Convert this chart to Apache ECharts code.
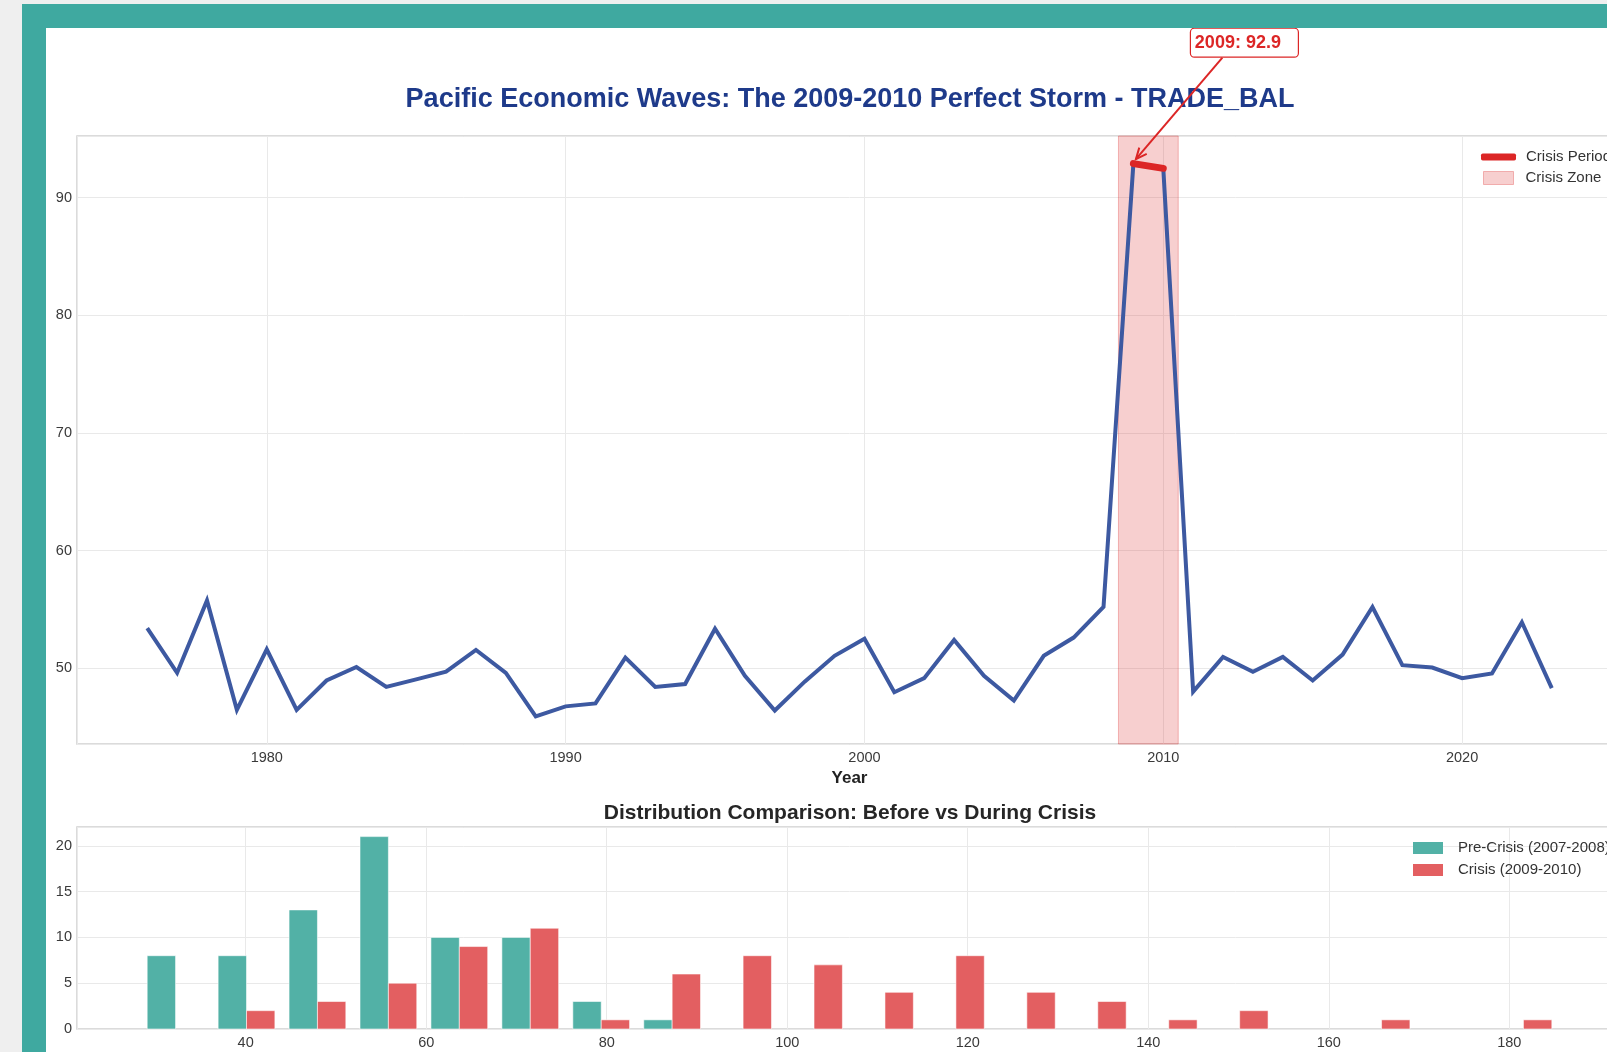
<!DOCTYPE html>
<html>
<head>
<meta charset="utf-8">
<script src="https://cdn.jsdelivr.net/npm/echarts@6/dist/echarts.min.js"></script>
<style>
  html, body { margin:0; padding:0; width:1607px; height:1052px; overflow:hidden; background:#efefef; }
  .abs { position:absolute; }
</style>
</head>
<body>
<div class="abs" style="left:46px;top:28px;width:2000px;height:2000px;background:#ffffff"></div>
<div id="chart" class="abs" style="left:0;top:0;width:1700px;height:1052px"></div>
<div class="abs" style="left:22px;top:4px;width:2000px;height:24px;background:#3fa9a0;z-index:5"></div>
<div class="abs" style="left:22px;top:4px;width:24px;height:2000px;background:#3fa9a0;z-index:5"></div>
<div class="abs" style="left:0;top:0;width:22px;height:2000px;background:#efefef;z-index:5"></div>
<div class="abs" style="left:0;top:0;width:2000px;height:4px;background:#efefef;z-index:5"></div>
<script>
// ---------- data ----------
const years = [1976,1977,1978,1979,1980,1981,1982,1983,1984,1985,1986,1987,1988,1989,1990,1991,1992,1993,1994,1995,1996,1997,1998,1999,2000,2001,2002,2003,2004,2005,2006,2007,2008,2009,2010,2011,2012,2013,2014,2015,2016,2017,2018,2019,2020,2021,2022,2023];
const tradeBal = [53.4,49.6,55.75,46.45,51.6,46.45,48.95,50.1,48.4,49.05,49.7,51.55,49.6,45.9,46.75,47.0,50.9,48.4,48.65,53.35,49.35,46.4,48.85,51.05,52.5,47.95,49.15,52.4,49.35,47.25,51.05,52.6,55.2,92.9,92.5,48.0,50.95,49.7,50.95,48.95,51.15,55.2,50.25,50.05,49.15,49.55,53.9,48.3];
const crisisYears = [2009, 2010];
const crisisZone = [2008.5, 2010.5];
const peakYear = 2009;
const peakValue = 92.9;

const binEdges = [28.30,36.16,44.02,51.88,59.74,67.60,75.46,83.32,91.18,99.04,106.90,114.76,122.62,130.48,138.34,146.20,154.06,161.92,169.78,177.64,185.50];
const preCrisisCounts = [8,8,13,21,10,10,3,1,0,0,0,0,0,0,0,0,0,0,0,0];
const crisisCounts    = [0,2,3,5,9,11,1,6,8,7,4,8,4,3,1,2,0,1,0,1];

const mainTitle = 'Pacific Economic Waves: The 2009-2010 Perfect Storm - TRADE_BAL';
const subTitle = 'Distribution Comparison: Before vs During Crisis';
const seriesNames = { line:'TRADE_BAL', period:'Crisis Period', zone:'Crisis Zone', pre:'Pre-Crisis (2007-2008)', crisis:'Crisis (2009-2010)' };

// ---------- build ----------
const FONT = '"Liberation Sans", Arial, sans-serif';
const lineData = years.map((y,i) => [y, tradeBal[i]]);
const periodData = crisisYears.map(y => [y, tradeBal[years.indexOf(y)]]);
const histData = counts => counts.map((c,i) => [binEdges[i], binEdges[i+1], c]);

function barRender(slot, color) {
  return function(params, api) {
    const x0 = api.value(0), x1 = api.value(1), c = api.value(2);
    if (!c) return null;
    const w = x1 - x0;
    const left = x0 + w * (0.1 + 0.4 * slot);
    const right = left + w * 0.4;
    const p0 = api.coord([left, c]);
    const p1 = api.coord([right, 0]);
    return { type:'rect', shape:{ x:p0[0], y:p0[1], width:p1[0]-p0[0], height:p1[1]-p0[1] },
             style:{ fill:color, stroke:'rgba(255,255,255,0.7)', lineWidth:0.8 } };
  };
}
const mult = m => v => (Math.abs(v - Math.round(v/m)*m) < 1e-6 ? String(Math.round(v)) : '');
const axisCommon = {
  axisLine:{show:false}, axisTick:{show:false},
  splitLine:{show:true, lineStyle:{color:'#e9e9e9', width:1}},
};
const labelStyle = { fontSize:14.5, color:'#3a3a3a', fontFamily:FONT };
const legendText = pad => ({ fontSize:15, color:'#333', fontFamily:FONT, lineHeight:16, padding:[0,0,0,pad] });

const chart = echarts.init(document.getElementById('chart'), null, {renderer:'canvas'});
const option = {
  animation:false,
  textStyle:{ fontFamily:FONT },
  title:[
    { text:mainTitle, left:'center', top:85, padding:0,
      textStyle:{ fontSize:27, fontWeight:'bold', color:'#1e3a8a', lineHeight:30, fontFamily:FONT } },
    { text:subTitle, left:'center', top:801, padding:0,
      textStyle:{ fontSize:21, fontWeight:'bold', color:'#262626', lineHeight:24, fontFamily:FONT } }
  ],
  grid:[
    { left:77, top:136, width:1545, height:608, show:true, borderColor:'#cfcfcf', borderWidth:1.5, backgroundColor:'rgba(0,0,0,0)' },
    { left:77, top:827, width:1545, height:202, show:true, borderColor:'#cfcfcf', borderWidth:1.5, backgroundColor:'rgba(0,0,0,0)' }
  ],
  xAxis:[
    Object.assign({ type:'value', gridIndex:0, min:1973.65, max:2025.35, minInterval:10, maxInterval:10,
      axisLabel:Object.assign({ margin:6, formatter:mult(10) }, labelStyle),
      name:'Year', nameLocation:'middle', nameGap:26,
      nameTextStyle:{ fontSize:17, fontWeight:'bold', color:'#222', fontFamily:FONT } }, axisCommon),
    Object.assign({ type:'value', gridIndex:1, min:21.31, max:192.49, minInterval:20, maxInterval:20,
      axisLabel:Object.assign({ margin:6, formatter:mult(20) }, labelStyle) }, axisCommon)
  ],
  yAxis:[
    Object.assign({ type:'value', gridIndex:0, min:43.55, max:95.25, minInterval:10, maxInterval:10,
      axisLabel:Object.assign({ margin:5, formatter:mult(10) }, labelStyle) }, axisCommon),
    Object.assign({ type:'value', gridIndex:1, min:0, max:22.05, interval:5,
      axisLabel:Object.assign({ margin:5, formatter:mult(5) }, labelStyle),
      name:'Frequency', nameLocation:'middle', nameGap:27,
      nameTextStyle:{ fontSize:15, fontWeight:'bold', color:'#222', fontFamily:FONT } }, axisCommon)
  ],
  legend:[
    { data:[{ name:seriesNames.period, icon:'roundRect', itemStyle:{ color:'#dc2626' } }],
      left:1481, top:149, padding:0, orient:'vertical', itemWidth:35, itemHeight:7,
      textStyle:legendText(5) },
    { data:[{ name:seriesNames.zone, icon:'rect', itemStyle:{ color:'rgba(220,38,38,0.22)', borderColor:'rgba(220,38,38,0.3)', borderWidth:1 } }],
      left:1483, top:170, padding:0, orient:'vertical', itemWidth:30, itemHeight:13,
      textStyle:legendText(7) },
    { data:[{ name:seriesNames.pre, icon:'rect' }, { name:seriesNames.crisis, icon:'rect' }],
      left:1413, top:840, padding:0, orient:'vertical', itemWidth:30, itemHeight:12, itemGap:6,
      textStyle:legendText(10) }
  ],
  series:[
    { name:seriesNames.zone, type:'line', xAxisIndex:0, yAxisIndex:0, data:[], symbol:'none',
      itemStyle:{ color:'rgba(220,38,38,0.22)' }, z:1,
      markArea:{ silent:true, itemStyle:{ color:'rgba(220,38,38,0.22)', borderColor:'rgba(220,38,38,0.3)', borderWidth:1 },
        data:[[ { xAxis:crisisZone[0] }, { xAxis:crisisZone[1] } ]] } },
    { name:seriesNames.line, type:'line', xAxisIndex:0, yAxisIndex:0, data:lineData, symbol:'none',
      lineStyle:{ color:'#3d59a1', width:4, join:'miter' }, itemStyle:{ color:'#3d59a1' }, z:3 },
    { name:seriesNames.period, type:'line', xAxisIndex:0, yAxisIndex:0, data:periodData, symbol:'none',
      lineStyle:{ color:'#dc2626', width:7, cap:'round' }, itemStyle:{ color:'#dc2626' }, z:4 },
    { name:seriesNames.pre, type:'custom', xAxisIndex:1, yAxisIndex:1, data:histData(preCrisisCounts),
      renderItem:barRender(0, '#52b1a6'), itemStyle:{ color:'#52b1a6' }, z:3 },
    { name:seriesNames.crisis, type:'custom', xAxisIndex:1, yAxisIndex:1, data:histData(crisisCounts),
      renderItem:barRender(1, '#e35f61'), itemStyle:{ color:'#e35f61' }, z:3 }
  ]
};
chart.setOption(option);

// ---------- peak annotation, anchored on the data point through the axis scales ----------
const pk = chart.convertToPixel({ xAxisIndex:0, yAxisIndex:0 }, [peakYear, peakValue]);
const boxW = 108, boxH = 29;
const boxCx = pk[0] + 111, boxCy = pk[1] - 121;
const textCx = pk[0] + 104.5, textCy = pk[1] - 121;
const aStart = [pk[0] + 89, pk[1] - 106];
const aEnd = [pk[0] + 2.5, pk[1] - 4.5];
const dx = aEnd[0] - aStart[0], dy = aEnd[1] - aStart[1];
const len = Math.hypot(dx, dy), ux = dx/len, uy = dy/len;
const hl = 12, ang = 0.42;
function rot(x, y, a) { return [x*Math.cos(a) - y*Math.sin(a), x*Math.sin(a) + y*Math.cos(a)]; }
const h1 = rot(-ux*hl, -uy*hl, ang), h2 = rot(-ux*hl, -uy*hl, -ang);
chart.setOption({
  graphic:[
    { type:'line', z:100, shape:{ x1:aStart[0], y1:aStart[1], x2:aEnd[0], y2:aEnd[1] },
      style:{ stroke:'#dc2626', lineWidth:2 } },
    { type:'polyline', z:100, shape:{ points:[[aEnd[0]+h1[0], aEnd[1]+h1[1]], aEnd, [aEnd[0]+h2[0], aEnd[1]+h2[1]]] },
      style:{ stroke:'#dc2626', lineWidth:2, fill:null } },
    { type:'rect', z:100, shape:{ x:boxCx - boxW/2, y:boxCy - boxH/2, width:boxW, height:boxH, r:4 },
      style:{ fill:'#ffffff', stroke:'#dc2626', lineWidth:1.2 } },
    { type:'text', z:101, x:textCx, y:textCy,
      style:{ text: peakYear + ': ' + peakValue.toFixed(1), fill:'#dc2626', font:'bold 18px ' + FONT, align:'center', verticalAlign:'middle' } }
  ]
});
</script>
</body>
</html>
